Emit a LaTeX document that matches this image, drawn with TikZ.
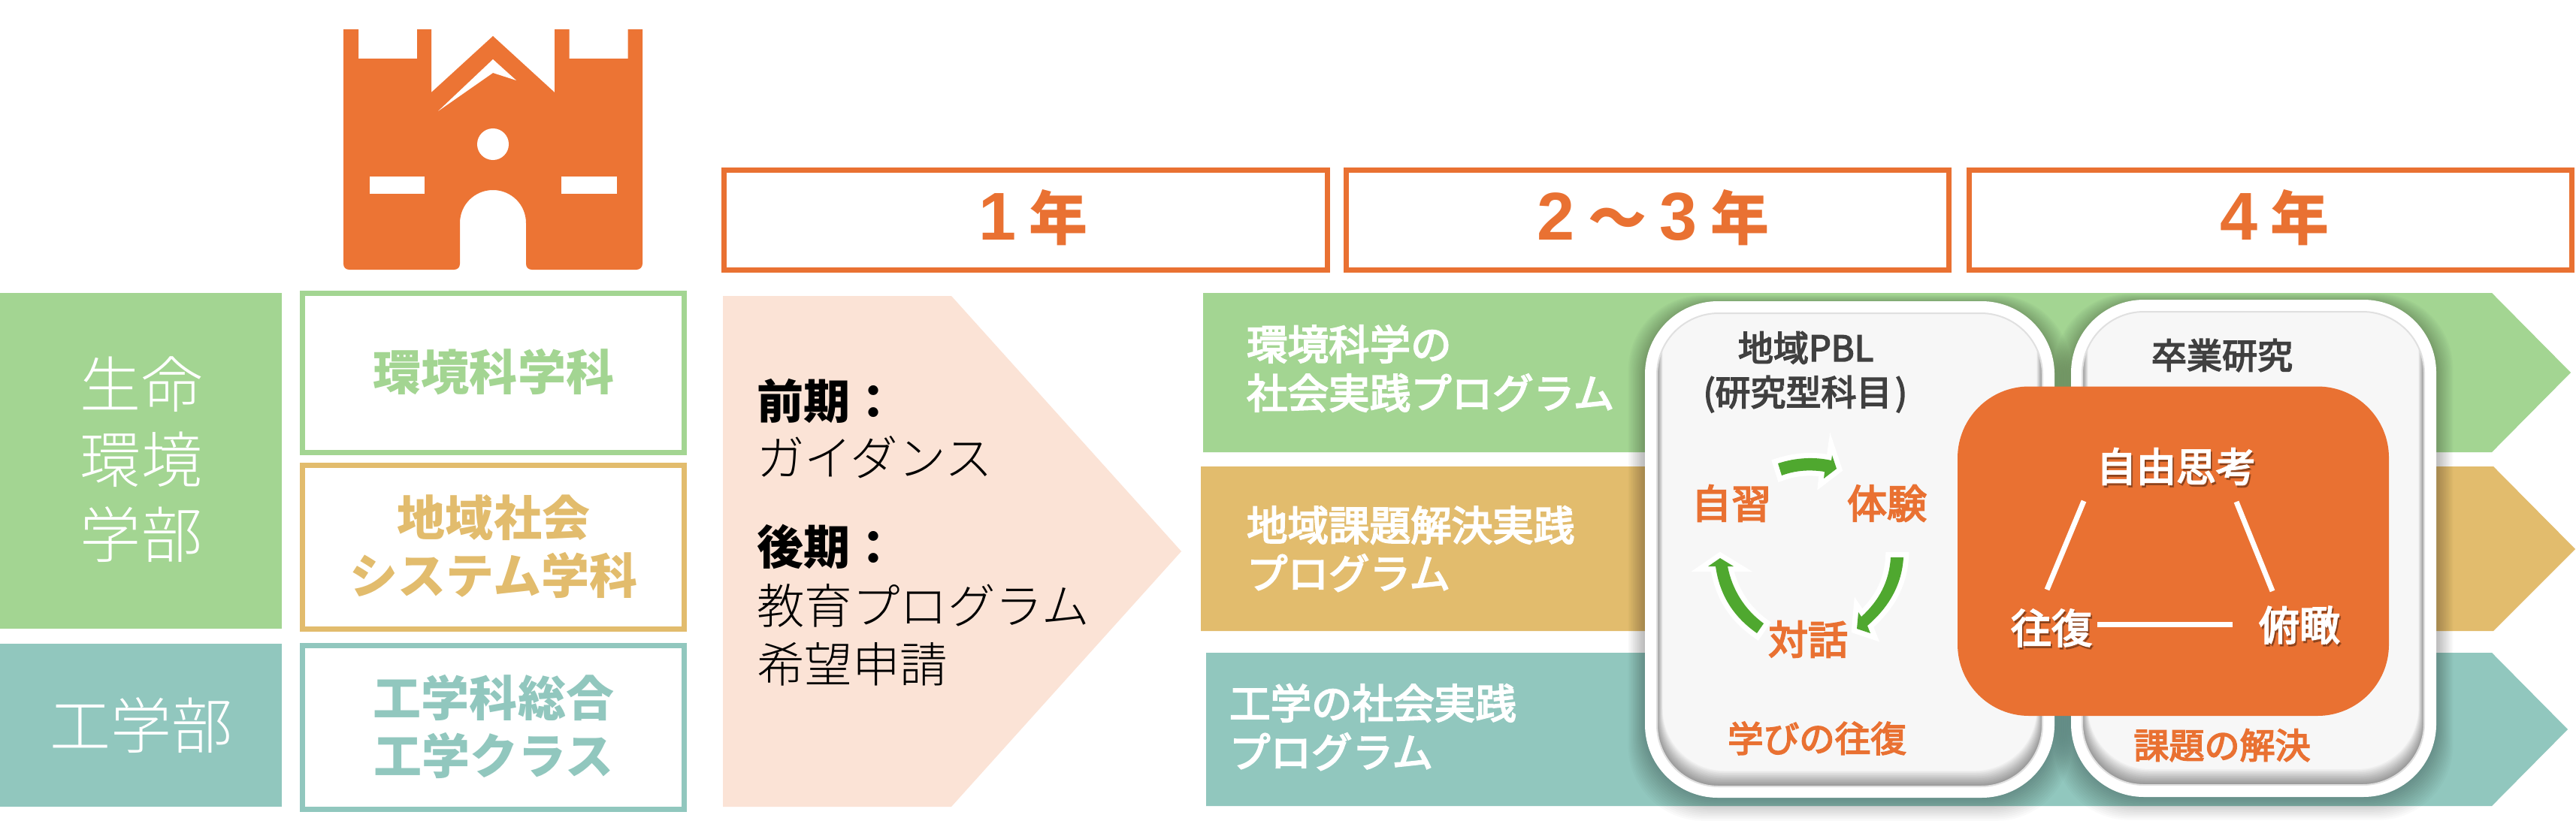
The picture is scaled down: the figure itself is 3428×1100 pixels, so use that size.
\documentclass[tikz,border=0pt]{standalone}
\usepackage{fontspec}
\setmainfont{Noto Sans CJK JP}
\newfontfamily\ar{Liberation Sans}
\IfFontExistsTF{Noto Sans CJK JP Light}{\newfontfamily\lt{Noto Sans CJK JP Light}}{\newfontfamily\lt{Noto Sans CJK JP}}
\newfontfamily\md[FakeBold=3.5]{Noto Sans CJK JP}
\definecolor{grn}{HTML}{A3D592}
\definecolor{gld}{HTML}{E2BC6D}
\definecolor{tea}{HTML}{91C7BE}
\definecolor{org}{HTML}{E97132}
\definecolor{lgo}{HTML}{EC7434}
\definecolor{pnk}{HTML}{FBE3D6}
\definecolor{cardg}{HTML}{F7F7F7}
\definecolor{dgr}{HTML}{404040}
\definecolor{arr}{HTML}{4FA82F}
\tikzset{
  x=0.01cm,y=-0.01cm,
  lbl/.style={inner sep=0pt,outer sep=0pt,anchor=base},
  lblw/.style={inner sep=0pt,outer sep=0pt,anchor=base west},
  ybox/.style={draw=org,line width=7*0.01cm,fill=white},
  obox/.style={line width=7*0.01cm,fill=white},
  cyc/.style={fill=arr,preaction={draw=white,line width=14*0.01cm,miter limit=10}},
  tri/.style={draw=white,line width=7*0.01cm},
}
% name, x, y centre, em(px), style, text
\newcommand\tx[6]{%
  \pgfmathsetmacro\fsz{#4*0.28453}%
  \pgfmathsetmacro\yb{#3+0.38*#4}%
  \node[#5,font={\fontsize{\fsz pt}{\fsz pt}\selectfont}] (#1) at (#2,\yb) {#6};}
% white text with soft shadow
\newcommand\stx[5]{%
  \tx{#1s}{#2+2}{#3+3}{#4}{lbl,text=black,text opacity=.28}{\md #5}%
  \tx{#1}{#2}{#3}{#4}{lbl,text=white}{\md #5}}
% card x1 y1 x2 y2 ix1 iy1 ix2 iy2
\newcommand\card[8]{%
  \foreach \k in {1,...,14}{%
    \fill[black,opacity=.02,rounded corners=1cm]
      (#1-\k*1.6,#2-\k*0.8+3) rectangle (#3+\k*1.6,#4+\k*2.2);}
  \fill[white,rounded corners=.97cm] (#1,#2) rectangle (#3,#4);
  \begin{scope}
    \clip[rounded corners=.82cm] (#5,#6) rectangle (#7,#8);
    \fill[cardg] (#5,#6) rectangle (#7,#8);
    \foreach \k in {1,...,13}{%
      \fill[white,opacity=.12,even odd rule] (#5-20,#6-20) rectangle (#7+20,#8+20)
        [rounded corners=.82cm] (#5-20,#6+\k) rectangle (#7+20,#8+40);}
    \foreach \k in {1,...,14}{%
      \fill[black,opacity=.03,even odd rule] (#5-20,#6-20) rectangle (#7+20,#8+20)
        [rounded corners=.82cm] (#5+\k*.55,#6-40) rectangle (#7-\k*.55,#8-\k*1.5);}
  \end{scope}
  \draw[black!12,line width=.02cm,rounded corners=.82cm] (#5,#6) rectangle (#7,#8);}
\begin{document}
\begin{tikzpicture}
\useasboundingbox (0,0) rectangle (3428,1100);
\fill[white] (0,0) rectangle (3428,1100);
% logo
\fill[lgo] (457,39) -- (477,39) -- (477,78) -- (555,78) -- (555,39) -- (574,39) -- (574,123)
  -- (656,48) -- (738,123) -- (738,39) -- (757.5,39) -- (757.5,78) -- (835.5,78) -- (835.5,39)
  -- (855,39) -- (855,351) .. controls (855,356) and (851,359) .. (847,359)
  -- (708,359) .. controls (703,359) and (700,356) .. (700,351)
  -- (700,297) .. controls (700,272) and (680,253) .. (656,253)
  .. controls (632,253) and (612,272) .. (612,297)
  -- (612,351) .. controls (612,356) and (609,359) .. (604,359)
  -- (465,359) .. controls (460,359) and (457,356) .. (457,351) -- cycle;
\fill[white] (583,148) -- (656,79) -- (687,107) -- (656,97) -- cycle;
\fill[white] (656,192) circle[radius=.21cm];
\fill[white] (491.5,235) rectangle (565,258);
\fill[white] (747,235) rectangle (821,258);
% faculties
\fill[grn] (0,390) rectangle (375,837);
\fill[tea] (0,857) rectangle (375,1074);
\tx{f1}{188}{512}{81}{lbl,text=white}{\lt 生命}
\tx{f2}{188}{612}{81}{lbl,text=white}{\lt 環境}
\tx{f3}{188}{712}{81}{lbl,text=white}{\lt 学部}
\tx{f4}{188}{966}{81}{lbl,text=white}{\lt 工学部}
% departments
\draw[obox,draw=grn] (402.5,390.5) rectangle (910.5,602.5);
\draw[obox,draw=gld] (402.5,619.5) rectangle (910.5,837.5);
\draw[obox,draw=tea] (402.5,859.5) rectangle (910.5,1077.5);
\tx{d1}{657}{495}{64}{lbl,text=grn}{\bfseries 環境科学科}
\tx{d2}{657}{689}{64}{lbl,text=gld}{\bfseries 地域社会}
\tx{d3}{657}{766}{64}{lbl,text=gld}{\bfseries システム学科}
\tx{d4}{657}{929}{64}{lbl,text=tea}{\bfseries 工学科総合}
\tx{d5}{657}{1006}{64}{lbl,text=tea}{\bfseries 工学クラス}
% years
\draw[ybox] (963.5,226.5) rectangle (1766.5,359.5);
\draw[ybox] (1791.5,226.5) rectangle (2593.5,359.5);
\draw[ybox] (2620.5,226.5) rectangle (3422.5,359.5);
\tx{y1}{1375}{290}{78}{lbl,text=org}{\bfseries {\ar\fontsize{25.6pt}{26pt}\selectfont 1} 年}
\tx{y2}{2200}{290}{78}{lbl,text=org}{\bfseries {\ar\fontsize{25.6pt}{26pt}\selectfont 2} 〜 {\ar\fontsize{25.6pt}{26pt}\selectfont 3} 年}
\tx{y3}{3027}{290}{78}{lbl,text=org}{\bfseries {\ar\fontsize{25.6pt}{26pt}\selectfont 4} 年}
% first-year pentagon
\fill[pnk] (962,394) -- (1266,394) -- (1572,734) -- (1266,1074) -- (962,1074) -- cycle;
\tx{p1}{1007}{534}{62}{lblw,text=black}{\bfseries 前期：}
\tx{p2}{1007}{609}{63.5}{lblw,text=black}{\lt ガイダンス}
\tx{p3}{1007}{728}{62}{lblw,text=black}{\bfseries 後期：}
\tx{p4}{1007}{806}{63.5}{lblw,text=black}{\lt 教育プログラム}
\tx{p5}{1007}{884}{63.5}{lblw,text=black}{\lt 希望申請}
% program arrows
\fill[grn] (1601,390) -- (3316,390) -- (3421,496) -- (3316,602) -- (1601,602) -- cycle;
\fill[gld] (1598,621) -- (3318,621) -- (3427,731) -- (3318,840) -- (1598,840) -- cycle;
\fill[tea] (1605,869) -- (3316,869) -- (3417,971) -- (3316,1073) -- (1605,1073) -- cycle;
\tx{a1}{1659}{458}{54.5}{lblw,text=white}{\md 環境科学の}
\tx{a2}{1659}{523}{54.5}{lblw,text=white}{\md 社会実践プログラム}
\tx{a3}{1659}{699}{54.5}{lblw,text=white}{\md 地域課題解決実践}
\tx{a4}{1659}{763}{54.5}{lblw,text=white}{\md プログラム}
\tx{a5}{1636}{936}{54.5}{lblw,text=white}{\md 工学の社会実践}
\tx{a6}{1636}{1001}{54.5}{lblw,text=white}{\md プログラム}
% cards
\card{2189}{401}{2734}{1062}{2205}{417}{2718}{1047}
\card{2756}{399}{3242}{1061}{2771}{415}{3226}{1045}
% card 1 text
\tx{c1}{2403}{463}{47}{lbl,text=dgr}{\md 地域PBL}
\tx{c2}{2400}{522}{47}{lbl,text=dgr}{\md \llap{(}研究型科目\rlap{\kern.1em)}}
\tx{c3}{2304}{670}{53}{lbl,text=org}{\md 自習}
\tx{c4}{2511}{670}{53}{lbl,text=org}{\md 体験}
\tx{c5}{2406}{851}{53}{lbl,text=org}{\md 対話}
\tx{c6}{2418}{983}{47.5}{lbl,text=org}{\md 学びの往復}
% cycle arrows
\path[cyc] (2366,617) .. controls (2390,609) and (2415,608) .. (2437,613) -- (2438,606) -- (2444,624) -- (2427,637) -- (2428,628) .. controls (2408,625) and (2390,626) .. (2371,633) -- cycle;
\path[cyc] (2533,742) .. controls (2531,778) and (2514,808) .. (2485,833) -- (2489,843) -- (2471,837) -- (2473,815) -- (2477,821) .. controls (2500,800) and (2514,775) .. (2516,742) -- cycle;
\path[cyc] (2338,843) .. controls (2305,820) and (2288,790) .. (2283,754) -- (2273,754) -- (2289,743) -- (2307,754) -- (2299,754) .. controls (2305,785) and (2322,812) .. (2347,830) -- cycle;
% card 2 text
\tx{e1}{2957}{473}{47}{lbl,text=dgr}{\md 卒業研究}
\tx{e2}{2957}{992}{47}{lbl,text=org}{\md 課題の解決}
% orange panel
\fill[org,rounded corners=.95cm] (2605,514.5) rectangle (3179,953);
\stx{t1}{2896}{621}{53}{自由思考}
\stx{t2}{2730}{836}{54}{往復}
\stx{t3}{3060}{832}{54}{俯瞰}
\coordinate (l1a) at (2773,667); \coordinate (l1b) at (2724,785);
\coordinate (l2a) at (2976,668); \coordinate (l2b) at (3024,787);
\coordinate (l3a) at (2791,831); \coordinate (l3b) at (2971,831);
\draw[tri] (l1a) -- (l1b);
\draw[tri] (l2a) -- (l2b);
\draw[tri] (l3a) -- (l3b);
\end{tikzpicture}
\end{document}
